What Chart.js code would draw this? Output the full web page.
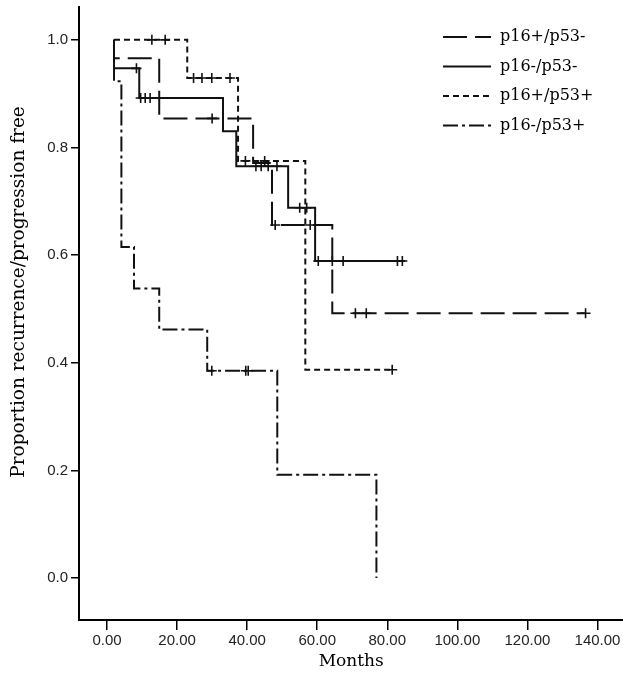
<!DOCTYPE html>
<html>
<head>
<meta charset="utf-8">
<script src="https://cdn.jsdelivr.net/npm/chart.js@4/dist/chart.umd.min.js"></script>
<style>
  body { margin: 0; background: #fff; overflow: hidden; }
</style>
</head>
<body>
<canvas id="kmChart" width="630" height="675"></canvas>
<script>
"use strict";

/* Kaplan-Meier data (months / proportion) */
var groups = ['p16+/p53-', 'p16-/p53-', 'p16+/p53+', 'p16-/p53+'];

var timesA = [2, 2, 14.9, 41.7, 47.1, 64.3, 136.6];
var survA  = [1.0, 0.966, 0.854, 0.771, 0.656, 0.492, 0.492];
var censA  = [30, 48, 58, 70.9, 74, 136.6];

var timesB = [2, 2, 9.2, 33.1, 36.9, 51.7, 59.4, 85.1];
var survB  = [1.0, 0.947, 0.892, 0.830, 0.765, 0.688, 0.589, 0.589];
var censB  = [8.4, 9.6, 10.9, 12.3, 42.5, 44, 46, 48.5, 55, 57, 60.3, 64.3, 67.4, 82.9, 84.3];

var timesC = [2, 22.9, 37.4, 56.6, 81.4];
var survC  = [1.0, 0.929, 0.775, 0.387, 0.387];
var censC  = [12.8, 16.6, 24.7, 27.1, 29.9, 35.1, 39.5, 45, 81.4];

var timesD = [2, 2, 4.1, 7.7, 14.9, 28.6, 48.6, 76.9];
var survD  = [1.0, 0.923, 0.615, 0.538, 0.462, 0.385, 0.192, 0];
var censD  = [29.9, 39.6, 40.3];

var xTicks = [0, 20, 40, 60, 80, 100, 120, 140];
var xTickLabels = ['0.00', '20.00', '40.00', '60.00', '80.00', '100.00', '120.00', '140.00'];
var yTicks = [0, 0.2, 0.4, 0.6, 0.8, 1.0];
var yTickLabels = ['0.0', '0.2', '0.4', '0.6', '0.8', '1.0'];

var yTitle = 'Proportion recurrence/progression free';
var dashes = [[24, 8], [], [6, 4], [15, 4, 3, 4]];
var ink = '#111';

function toPoints(times, surv) {
    return times.map(function (t, i) { return {x: t, y: surv[i]}; });
}

// level of the step curve at time t
function levelAt(times, surv, t) {
    var v = surv[0];
    for (var i = 0; i < times.length; i++) {
        if (times[i] <= t) v = surv[i];
    }
    return v;
}

function censorPoints(times, surv, cens) {
    return cens.map(function (t) { return {x: t, y: levelAt(times, surv, t)}; });
}

var series = [
    [timesA, survA, censA],
    [timesB, survB, censB],
    [timesC, survC, censC],
    [timesD, survD, censD]
];

var datasets = [];
series.forEach(function (s, i) {
    datasets.push({
        label: groups[i],
        data: toPoints(s[0], s[1]),
        stepped: 'before',
        borderColor: ink,
        borderWidth: 2,
        borderDash: dashes[i],
        pointRadius: 0,
        fill: false
    });
});
series.forEach(function (s) {
    datasets.push({
        data: censorPoints(s[0], s[1], s[2]),
        showLine: false,
        pointStyle: 'cross',
        pointRadius: 5,
        pointBorderWidth: 1.6,
        borderColor: ink,
        backgroundColor: ink
    });
});

/* legend in the upper right of the plot, y title on the left */
var kmLegend = {
    id: 'kmLegend',
    afterDatasetsDraw: function (chart) {
        var ctx = chart.ctx;
        ctx.save();
        ctx.font = '16px "DejaVu Serif"';
        ctx.textBaseline = 'middle';
        ctx.fillStyle = '#000';
        chart.data.datasets.forEach(function (ds, i) {
            if (!ds.label) return;
            var y = 37 + i * 29.5;
            ctx.strokeStyle = ink;
            ctx.lineWidth = 2;
            ctx.setLineDash(ds.borderDash);
            ctx.beginPath();
            ctx.moveTo(443, y);
            ctx.lineTo(491, y);
            ctx.stroke();
            ctx.setLineDash([]);
            ctx.fillText(ds.label, 500, y);
        });

        ctx.translate(19, 292);
        ctx.rotate(-Math.PI / 2);
        ctx.textAlign = 'center';
        ctx.font = '18.5px "DejaVu Serif"';
        ctx.fillText(yTitle, 0, 0);
        ctx.restore();
    }
};

var ctx = document.getElementById('kmChart').getContext('2d');
var chart = new Chart(ctx, {
    type: 'line',
    data: {datasets: datasets},
    plugins: [kmLegend],
    options: {
        responsive: false,
        animation: false,
        layout: {padding: {top: 7, right: 0, left: 0, bottom: 0}},
        plugins: {
            legend: {display: false},
            tooltip: {enabled: false}
        },
        scales: {
            x: {
                type: 'linear',
                min: -8,
                max: 147.4,
                afterBuildTicks: function (s) { s.ticks = xTicks.map(function (v) { return {value: v}; }); },
                afterFit: function (s) { s.height = 55; s.paddingLeft = 0; s.paddingRight = 0; },
                grid: {drawOnChartArea: false, drawTicks: true, tickLength: 10, color: '#000', lineWidth: 1.5},
                border: {display: true, color: '#000', width: 2},
                ticks: {
                    padding: 2,
                    color: '#222',
                    font: {family: '"Liberation Sans"', size: 15},
                    maxRotation: 0,
                    callback: function (v, idx) { return xTickLabels[idx]; }
                },
                title: {
                    display: true,
                    text: 'Months',
                    color: '#000',
                    font: {family: '"DejaVu Serif"', size: 17},
                    padding: {top: 0, bottom: 3}
                }
            },
            y: {
                type: 'linear',
                min: -0.078,
                max: 1.061,
                afterBuildTicks: function (s) { s.ticks = yTicks.map(function (v) { return {value: v}; }); },
                afterFit: function (s) { s.width = 79; s.paddingTop = 0; s.paddingBottom = 0; },
                grid: {drawOnChartArea: false, drawTicks: true, tickLength: 8, color: '#000', lineWidth: 1.5},
                border: {display: true, color: '#000', width: 2},
                ticks: {
                    padding: 3,
                    color: '#222',
                    font: {family: '"Liberation Sans"', size: 15},
                    callback: function (v, idx) { return yTickLabels[idx]; }
                }
            }
        }
    }
});
</script>
</body>
</html>
